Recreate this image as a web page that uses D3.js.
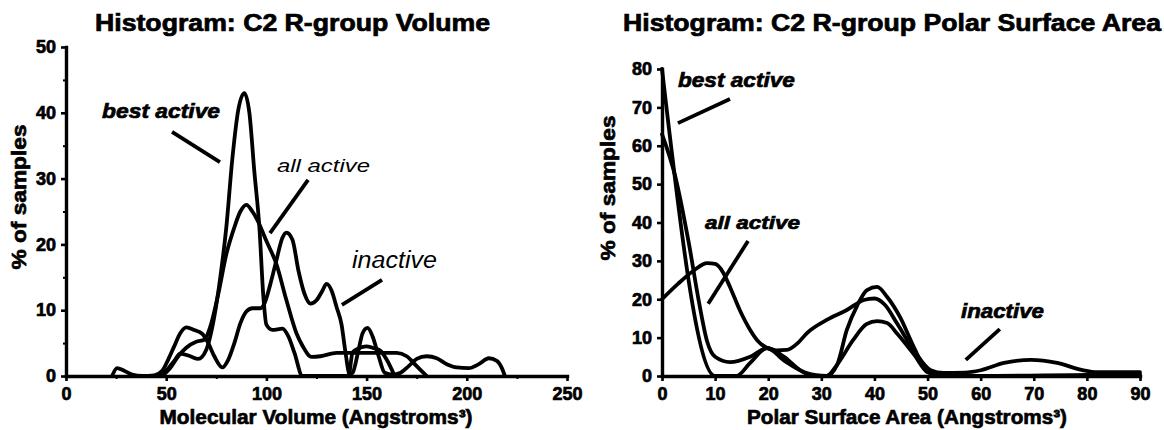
<!DOCTYPE html>
<html>
<head>
<meta charset="utf-8">
<script src="https://cdn.jsdelivr.net/npm/d3@7"></script>
<style>
  html, body { margin: 0; padding: 0; background: #fff; }
  svg { display: block; }
  text { font-family: "Liberation Sans", Arial, Helvetica, sans-serif; fill: #000; }
  .heavy { stroke: #000; stroke-width: 0.7px; paint-order: stroke; }
</style>
</head>
<body>
<svg id="chart" width="1164" height="430"></svg>
<script>
// ---- Molecular volume histogram (% of samples per volume bin) ----
const volumeXTicks = [0, 50, 100, 150, 200, 250];
const volumeYTicks = [0, 10, 20, 30, 40, 50];
const volumeXMinor = [25, 75, 125, 175, 225];
const volumeYMinor = [5, 15, 25, 35, 45];

const volumeBestActive = [
  [46, 0], [50, 0.8], [54, 2.3], [57, 3.4], [62, 3], [66, 2.6], [70, 4], [74, 9], [77, 15],
  [80, 22.6], [83, 33], [86, 40.5], [89, 43], [91.5, 40], [94, 31], [96.5, 22.6], [98.5, 12],
  [100, 7.8], [103, 7], [108, 7.2], [111, 6], [114, 3.5], [118, 0], [141, 0], [143, 3.6],
  [146, 4.2], [150, 4.5], [154, 4.2], [157, 3.8], [160, 2.5], [164, 0]
];
const volumeAllActive = [
  [48, 0], [52, 1.2], [56, 3], [60, 4.3], [65, 5.2], [69, 5.5], [72, 7.5], [76, 12.5], [80, 18.5],
  [84, 22.6], [87, 25], [90, 26], [93, 25], [95.5, 23.7], [100, 20.5], [105, 17], [110, 11.5],
  [115, 6.5], [118, 4.6], [122.5, 2.9], [127, 3], [135, 3.5], [150, 3.5], [165, 3.5], [170, 3],
  [175, 1.5], [180, 0]
];
const volumeInactive = [
  [23, 0], [25.5, 1.2], [29, 0.8], [33, 0.2], [38, 0], [44, 0.1], [48, 0.8], [51, 2.5], [54, 4.5],
  [57, 6.5], [60, 7.4], [64, 7], [68, 6.4], [71, 5], [74, 3], [78, 1.3], [81, 2.5], [84, 5], [87, 8],
  [90, 9.8], [93, 10.3], [97, 10.3], [99, 11], [102, 14], [105, 17.6], [108, 21], [110, 21.8],
  [113, 20.7], [116, 16], [119, 12.5], [122, 11], [125, 11.5], [128, 13], [130, 14], [132.5, 13],
  [135, 10.5], [137.5, 7.8], [139.5, 3.5], [141.5, 0.3], [143, 0.5], [146, 4], [148, 6.5],
  [150.5, 7.3], [153, 6], [156, 3], [159, 0.5], [163, 0.2], [167, 0.5], [171, 1.5], [175, 2.6],
  [180, 3], [185, 2.7], [190, 1.8], [195, 1.3], [201, 1.2], [206, 1.8], [211, 2.7], [215, 2.3],
  [217.5, 1.2], [219, 0]
];

// ---- Polar surface area histogram ----
const psaXTicks = [0, 10, 20, 30, 40, 50, 60, 70, 80, 90];
const psaYTicks = [0, 10, 20, 30, 40, 50, 60, 70, 80];

const psaBestActive = [
  [0, 80], [10, 0], [14, 0], [16.6, 3.4], [19.8, 7.3], [23, 5], [26, 1.5], [28.5, 0], [31, 0],
  [33, 3], [34.8, 12], [36.8, 18.5], [38.6, 22.4], [40.5, 23.2], [42.4, 20.6], [44.8, 15.4],
  [47.5, 7.3], [50, 1], [53, 0], [90, 0]
];
const psaAllActive = [
  [0, 63], [2.5, 52], [5, 35], [7, 19], [8.5, 9], [10, 5], [12.8, 3.6], [16.6, 5], [19.8, 7.3],
  [23, 4], [26.8, 1], [29, 0.2], [31, 0], [33, 3], [36, 9.4], [38.5, 13.5], [40.5, 14.3],
  [42.4, 13.8], [44.3, 11], [47.5, 5.5], [50, 1], [53, 0], [90, 0.5]
];
const psaInactive = [
  [0, 20], [3, 24], [6, 27.5], [8.5, 29.4], [10, 29.2], [11.5, 27], [12.8, 23.2], [14.7, 17],
  [16.6, 12], [18, 9.2], [19.8, 7.3], [21.5, 6.7], [23.5, 6.8], [25.5, 8.5], [27.3, 11.2],
  [31, 14.6], [34.8, 17.2], [38, 19.8], [40, 20.2], [42, 18.5], [44.3, 13.6], [47.5, 6.5],
  [50.6, 1.5], [53, 0.8], [57, 0.9], [60, 1.5], [64.4, 3.4], [69.5, 4.2], [74.4, 3.4], [79, 1.6],
  [82, 1], [90, 1]
];

const svg = d3.select("#chart");

function drawPanel(cfg) {
  const g = svg.append("g");
  const x = d3.scaleLinear().domain(cfg.xDomain).range(cfg.xRange);
  const y = d3.scaleLinear().domain(cfg.yDomain).range(cfg.yRange);

  // title
  g.append("text")
    .attr("class", "heavy")
    .attr("x", (cfg.titleSpan[0] + cfg.titleSpan[1]) / 2)
    .attr("y", 31)
    .attr("text-anchor", "middle")
    .attr("font-size", 23)
    .attr("font-weight", "bold")
    .attr("textLength", cfg.titleSpan[1] - cfg.titleSpan[0])
    .attr("lengthAdjust", "spacingAndGlyphs")
    .text(cfg.title);

  // curves
  const line = d3.line()
    .x(d => x(d[0]))
    .y(d => y(d[1]))
    .curve(d3.curveMonotoneX);
  cfg.series.forEach(s => {
    g.append("path")
      .attr("d", line(s))
      .attr("fill", "none")
      .attr("stroke", "#000")
      .attr("stroke-width", 3.8)
      .attr("stroke-linejoin", "round")
      .attr("stroke-linecap", "round");
  });

  // minor ticks
  if (cfg.xMinor) {
    g.append("g").attr("transform", `translate(0,${cfg.yRange[0]})`)
      .call(d3.axisBottom(x).tickValues(cfg.xMinor).tickSize(3).tickFormat(""))
      .call(a => a.select(".domain").remove())
      .call(a => a.selectAll("line").attr("stroke-width", 2));
  }
  if (cfg.yMinor) {
    g.append("g").attr("transform", `translate(${cfg.xRange[0]},0)`)
      .call(d3.axisLeft(y).tickValues(cfg.yMinor).tickSize(3).tickFormat(""))
      .call(a => a.select(".domain").remove())
      .call(a => a.selectAll("line").attr("stroke-width", 2));
  }

  // axes
  const styleAxis = a => {
    a.attr("font-family", null).attr("font-size", null);
    a.select(".domain").attr("stroke-width", 3.4).attr("stroke-linecap", "square");
    a.selectAll(".tick line").attr("stroke-width", 2.6);
    a.selectAll(".tick text")
      .attr("class", "heavy")
      .attr("font-size", 18)
      .attr("font-weight", "bold")
      .attr("fill", "#000");
  };
  g.append("g").attr("transform", `translate(0,${cfg.yRange[0]})`)
    .call(d3.axisBottom(x).tickValues(cfg.xTicks).tickSize(5).tickSizeOuter(0).tickPadding(6).tickFormat(d3.format("d")))
    .call(styleAxis);
  g.append("g").attr("transform", `translate(${cfg.xRange[0]},0)`)
    .call(d3.axisLeft(y).tickValues(cfg.yTicks).tickSize(5).tickSizeOuter(0).tickPadding(5).tickFormat(d3.format("d")))
    .call(styleAxis);

  // axis titles
  g.append("text")
    .attr("class", "heavy")
    .attr("x", cfg.xTitleCenter)
    .attr("y", 424)
    .attr("text-anchor", "middle")
    .attr("font-size", 21)
    .attr("font-weight", "bold")
    .attr("textLength", cfg.xTitleWidth)
    .attr("lengthAdjust", "spacingAndGlyphs")
    .text(cfg.xTitle);
  g.append("text")
    .attr("class", "heavy")
    .attr("transform", `translate(${cfg.yTitleX},${cfg.yTitleY}) rotate(-90)`)
    .attr("text-anchor", "middle")
    .attr("font-size", 21)
    .attr("font-weight", "bold")
    .attr("textLength", 145)
    .attr("lengthAdjust", "spacingAndGlyphs")
    .text("% of samples");

  // series annotations with pointer lines (positioned in data units)
  cfg.notes.forEach(n => {
    g.append("text")
      .attr("class", n.bold ? "heavy" : null)
      .attr("x", x(n.at[0]))
      .attr("y", y(n.at[1]))
      .attr("font-size", n.size)
      .attr("font-style", "italic")
      .attr("font-weight", n.bold ? "bold" : "normal")
      .attr("textLength", n.width)
      .attr("lengthAdjust", "spacingAndGlyphs")
      .text(n.text);
    g.append("line")
      .attr("x1", x(n.from[0])).attr("y1", y(n.from[1]))
      .attr("x2", x(n.to[0])).attr("y2", y(n.to[1]))
      .attr("stroke", "#000")
      .attr("stroke-width", 3.8);
  });
}

drawPanel({
  title: "Histogram: C2 R-group Volume",
  titleSpan: [95, 490],
  xDomain: [0, 250], xRange: [66, 567],
  yDomain: [0, 50], yRange: [376, 47],
  xTicks: volumeXTicks, yTicks: volumeYTicks,
  xMinor: volumeXMinor, yMinor: volumeYMinor,
  series: [volumeInactive, volumeAllActive, volumeBestActive],
  xTitle: "Molecular Volume (Angstroms³)", xTitleCenter: 316, xTitleWidth: 313,
  yTitleX: 26, yTitleY: 197,
  notes: [
    { text: "best active", bold: true, size: 21, width: 118, at: [18, 39.2], from: [52.9, 37.1], to: [76.8, 32.5] },
    { text: "all active", bold: false, size: 19, width: 93, at: [105.3, 31], from: [120.8, 29.8], to: [101.8, 21.7] },
    { text: "inactive", bold: false, size: 23, width: 85, at: [142.7, 16.4], from: [157.7, 14.6], to: [137.7, 10.8] }
  ]
});

drawPanel({
  title: "Histogram: C2 R-group Polar Surface Area",
  titleSpan: [623, 1161],
  xDomain: [0, 90], xRange: [662, 1140],
  yDomain: [0, 80], yRange: [376, 69],
  xTicks: psaXTicks, yTicks: psaYTicks,
  series: [psaInactive, psaAllActive, psaBestActive],
  xTitle: "Polar Surface Area (Angstroms³)", xTitleCenter: 907, xTitleWidth: 320,
  yTitleX: 615, yTitleY: 188,
  notes: [
    { text: "best active", bold: true, size: 21, width: 117, at: [3.0, 75.3], from: [12.8, 72.2], to: [3.0, 65.9] },
    { text: "all active", bold: true, size: 19, width: 95, at: [8.1, 38.3], from: [16.2, 35.2], to: [8.7, 18.8] },
    { text: "inactive", bold: true, size: 20, width: 83, at: [56.3, 15.1], from: [63.6, 12.2], to: [57.2, 4.2] }
  ]
});
</script>
</body>
</html>
